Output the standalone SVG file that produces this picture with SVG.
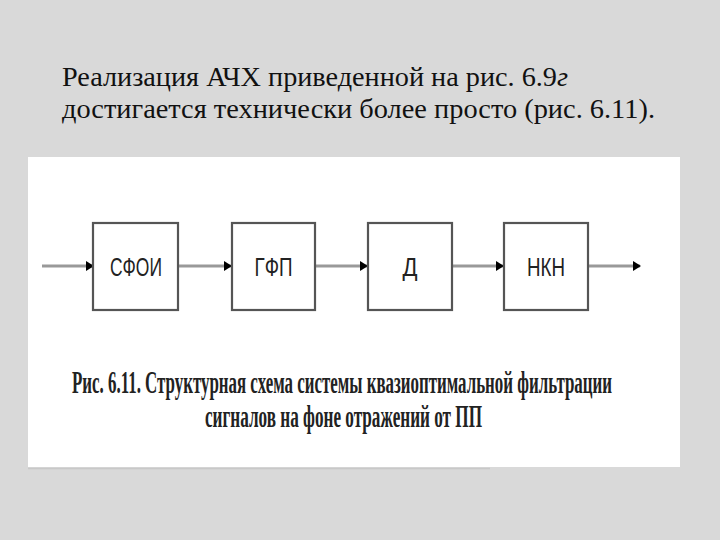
<svg xmlns="http://www.w3.org/2000/svg" width="720" height="540" viewBox="0 0 720 540">
<style>
.title{font-family:"Liberation Serif","DejaVu Serif","Times New Roman",serif;font-size:28px;fill:#111}
.lbl{font-family:"Liberation Sans",Arial,sans-serif;font-size:26px;fill:#222;text-anchor:middle}
.cap{font-family:"Liberation Serif","DejaVu Serif","Times New Roman",serif;font-weight:bold;font-size:31px;fill:#222}
.box{fill:#fff;stroke:#555;stroke-width:2.2}
.ln{stroke:#999;stroke-width:3;fill:none;marker-end:url(#ah)}
</style>
<defs>
<marker id="ah" markerWidth="8" markerHeight="10" refX="7" refY="5" orient="auto" markerUnits="userSpaceOnUse">
<path d="M0,0 L8,5 L0,10 Z" fill="#000"/>
</marker>
</defs>
<rect width="720" height="540" fill="#d9d9d9"/>
<text class="title" x="62" y="86" textLength="506" lengthAdjust="spacingAndGlyphs">Реализация АЧХ приведенной на рис. 6.9<tspan font-style="italic">г</tspan></text>
<text class="title" x="62" y="118" textLength="593" lengthAdjust="spacingAndGlyphs">достигается технически более  просто (рис. 6.11).</text>
<rect x="28" y="157" width="652" height="310" fill="#fff"/>
<line x1="28" y1="468.5" x2="490" y2="468.5" stroke="#c8c8c8" stroke-width="1.5"/>
<g id="connectors">
<line class="ln" x1="42" y1="266" x2="93" y2="266"/>
<line class="ln" x1="178" y1="266" x2="231" y2="266"/>
<line class="ln" x1="315" y1="266" x2="367" y2="266"/>
<line class="ln" x1="452" y1="266" x2="503" y2="266"/>
<line class="ln" x1="588" y1="266" x2="640" y2="266"/>
</g>
<g id="sfoi"><rect class="box" x="93" y="223" width="85" height="87" stroke="#111"/><text class="lbl" x="136" y="276" textLength="52" lengthAdjust="spacingAndGlyphs">СФОИ</text></g>
<g id="gfp"><rect class="box" x="232" y="223" width="83" height="87"/><text class="lbl" x="273.5" y="276" textLength="38" lengthAdjust="spacingAndGlyphs">ГФП</text></g>
<g id="d"><rect class="box" x="368" y="223" width="84" height="87"/><text class="lbl" x="410" y="276" textLength="15" lengthAdjust="spacingAndGlyphs">Д</text></g>
<g id="nkn"><rect class="box" x="504" y="223" width="84" height="87"/><text class="lbl" x="546" y="276" textLength="38" lengthAdjust="spacingAndGlyphs">НКН</text></g>
<text class="cap" x="72" y="393" textLength="540" lengthAdjust="spacingAndGlyphs">Рис. 6.11. Структурная схема системы квазиоптимальной фильтрации</text>
<text class="cap" x="205" y="427" textLength="277" lengthAdjust="spacingAndGlyphs">сигналов на фоне отражений от ПП</text>
</svg>
